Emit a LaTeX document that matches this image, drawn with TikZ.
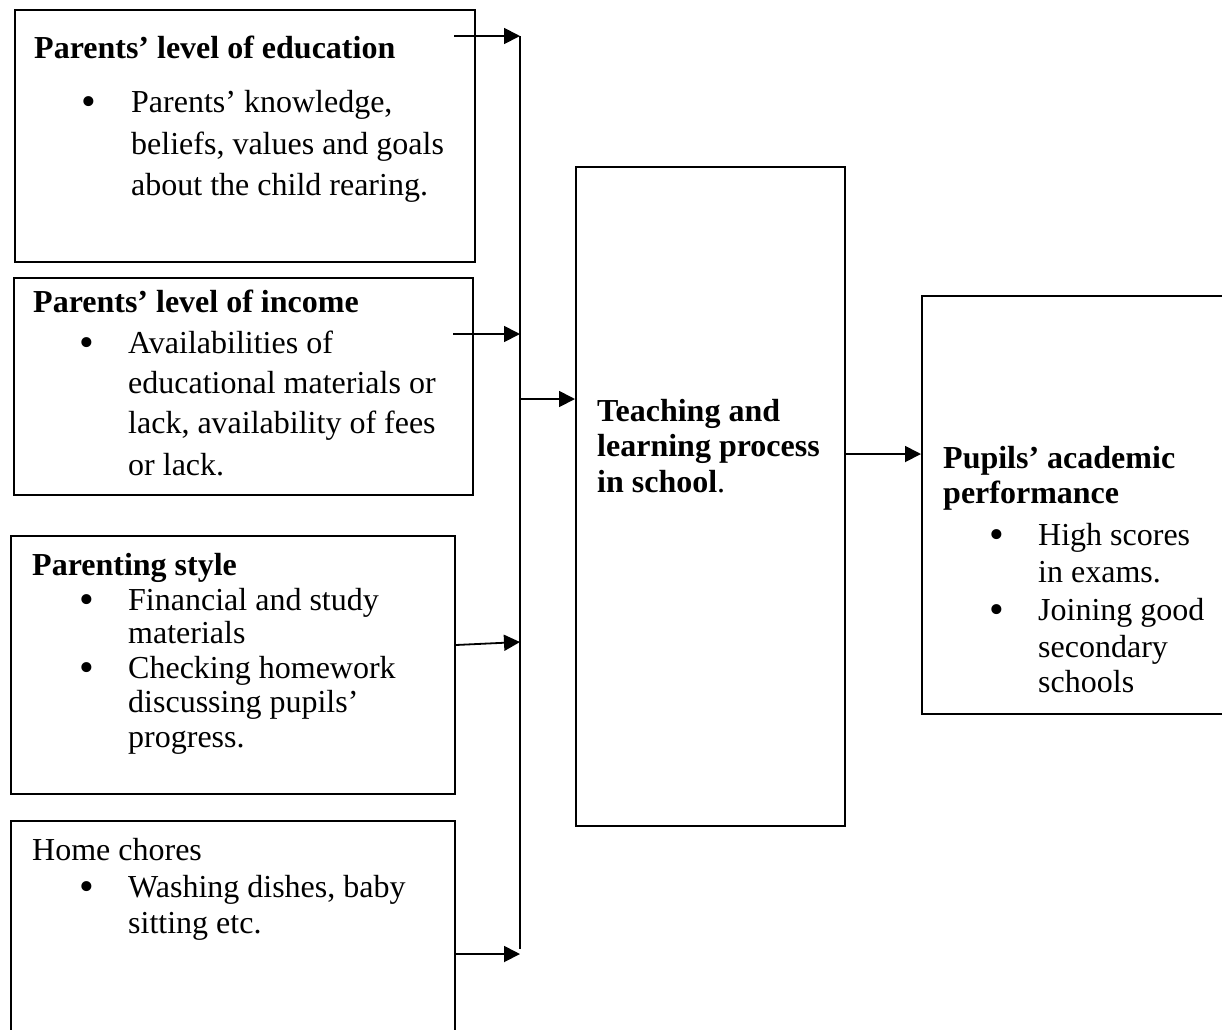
\documentclass[tikz,border=0pt]{standalone}
\usepackage{fontspec}
\setmainfont{Liberation Serif}
\usetikzlibrary{arrows.meta}
\tikzset{
  box/.style={draw, line width=1.8pt, anchor=north west, inner sep=0pt},
  tx/.style={anchor=base west, inner sep=0pt, font=\fontsize{32}{37}\selectfont},
  bx/.style={anchor=base west, inner sep=0pt, font=\bfseries\fontsize{32}{37}\selectfont},
  bul/.style={anchor=base, inner sep=0pt, yshift=-3.5pt, font=\fontsize{42}{44}\selectfont},
  arr/.style={line width=1.8pt, -{Triangle[length=16pt,width=16pt]}},
  ln/.style={line width=1.8pt}
}
\begin{document}
\begin{tikzpicture}[x=1pt,y=-1pt]
\useasboundingbox (0,0) rectangle (1222,1029);
\clip (0,0) rectangle (1222,1029);
% boxes
\node[box, minimum width=460pt, minimum height=252pt] (b1) at (14,9) {};
\node[box, minimum width=459pt, minimum height=217pt] (b2) at (13,277) {};
\node[box, minimum width=444pt, minimum height=258pt] (b3) at (10,535) {};
\node[box, minimum width=444pt, minimum height=240pt] (b4) at (10,820) {};
\node[box, minimum width=269pt, minimum height=659pt] (c) at (575,166) {};
\node[box, minimum width=320pt, minimum height=418pt] (p) at (921,295) {};
% box 1 text
\node[bx] (t1) at (34,58) {Parents’ level of education};
\node[bul] (u1) at (89,112) {•};
\node[tx] (t1a) at (131,112) {Parents’ knowledge,};
\node[tx] (t1b) at (131,154) {beliefs, values and goals};
\node[tx] (t1c) at (131,195) {about the child rearing.};
% box 2 text
\node[bx] (t2) at (33,312) {Parents’ level of income};
\node[bul] (u2) at (87,353) {•};
\node[tx] (t2a) at (128,353) {Availabilities of};
\node[tx] (t2b) at (128,393) {educational materials or};
\node[tx] (t2c) at (128,433) {lack, availability of fees};
\node[tx] (t2d) at (128,475) {or lack.};
% box 3 text
\node[bx] (t3) at (32,575) {Parenting style};
\node[bul] (u3a) at (87,610) {•};
\node[tx] (t3a) at (128,610) {Financial and study};
\node[tx] (t3b) at (128,643) {materials};
\node[bul] (u3b) at (87,678) {•};
\node[tx] (t3c) at (128,678) {Checking homework};
\node[tx] (t3d) at (128,712) {discussing pupils’};
\node[tx] (t3e) at (128,747) {progress.};
% box 4 text
\node[tx] (t4) at (32,860) {Home chores};
\node[bul] (u4) at (87,897) {•};
\node[tx] (t4a) at (128,897) {Washing dishes, baby};
\node[tx] (t4b) at (128,933) {sitting etc.};
% central text
\node[bx] (c1) at (597,421) {Teaching and};
\node[bx] (c2) at (597,456) {learning process};
\node[tx] (c3) at (597,492) {\textbf{in school}.};
% right box text
\node[bx] (p1) at (943,468) {Pupils’ academic};
\node[bx] (p2) at (943,503) {performance};
\node[bul] (up1) at (997,545) {•};
\node[tx] (p3) at (1038,545) {High scores};
\node[tx] (p4) at (1038,582) {in exams.};
\node[bul] (up2) at (997,620) {•};
\node[tx] (p5) at (1038,620) {Joining good};
\node[tx] (p6) at (1038,657) {secondary};
\node[tx] (p7) at (1038,692) {schools};
% connectors
\coordinate (bt) at (520,36);
\coordinate (bb) at (520,949);
\draw[ln] (bt) -- (bb);
\coordinate (s1) at (454,36);
\coordinate (s2) at (453,334);
\coordinate (s3) at (b3.east |- 0,645);
\coordinate (e3) at (520,642);
\coordinate (s4) at (b4.east |- 0,954);
\draw[arr] (s1) -- (s1 -| bt);
\draw[arr] (s2) -- (s2 -| bt);
\draw[arr] (s3) -- (e3);
\draw[arr] (s4) -- (s4 -| bt);
\coordinate (m) at (520,399);
\draw[arr] (m) -- (m -| c.west);
\coordinate (r) at (c.east |- 0,454);
\draw[arr] (r) -- (r -| p.west);
\end{tikzpicture}
\end{document}
